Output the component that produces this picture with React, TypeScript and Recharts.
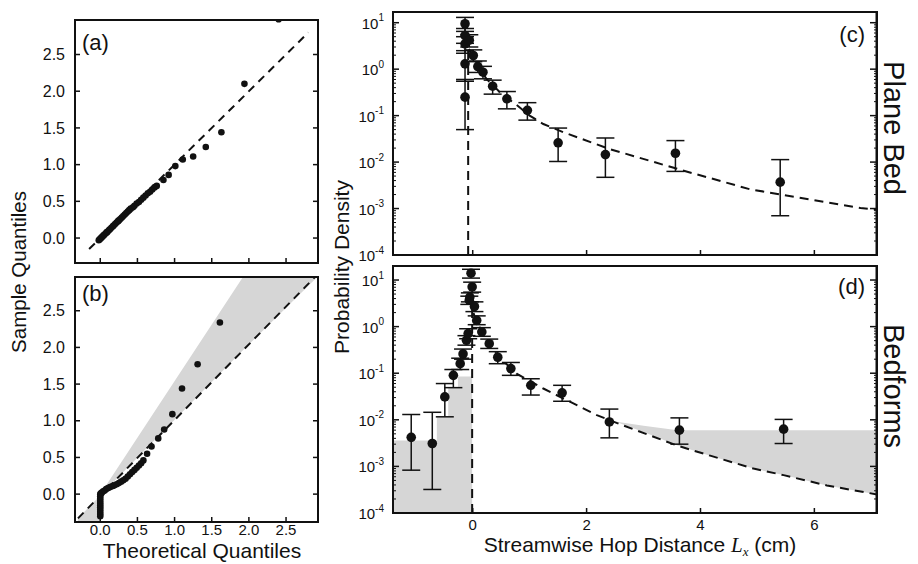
import React from 'react';
import { ComposedChart, Scatter, Line, Area, XAxis, YAxis, ErrorBar, ReferenceArea } from 'recharts';

const FONT = '"Liberation Sans", Arial, Helvetica, sans-serif';
const INK = '#111';
const SHADE = '#d6d6d6';

// ---- (a) / (b): Q-Q plots ----
const quantileTicks = [0, 0.5, 1, 1.5, 2, 2.5];

const qqPlaneBed: [number, number][] = [
  [-0.02, -0.03], [-0.01, -0.02], [0, -0.01], [0.01, 0], [0.02, 0.01], [0.03, 0.02],
  [0.04, 0.03], [0.05, 0.04], [0.06, 0.05], [0.08, 0.07], [0.09, 0.08], [0.1, 0.09],
  [0.12, 0.11], [0.13, 0.12], [0.15, 0.14], [0.17, 0.16], [0.18, 0.17], [0.2, 0.19],
  [0.22, 0.21], [0.24, 0.23], [0.25, 0.24], [0.27, 0.26], [0.29, 0.28], [0.31, 0.3],
  [0.33, 0.32], [0.35, 0.34], [0.37, 0.36], [0.39, 0.38], [0.41, 0.4], [0.44, 0.42],
  [0.46, 0.44], [0.49, 0.47], [0.52, 0.49], [0.55, 0.52], [0.58, 0.55], [0.61, 0.58],
  [0.64, 0.61], [0.67, 0.63], [0.7, 0.66], [0.73, 0.69], [0.76, 0.71], [0.85, 0.79],
  [0.92, 0.86], [1.01, 0.98], [1.11, 1.07], [1.25, 1.11], [1.42, 1.24], [1.63, 1.44],
  [1.94, 2.1], [2.4, 2.98],
];
const qqPlaneRef: [number, number][] = [[-0.15, -0.15], [2.8, 2.8]];

const qqBedforms: [number, number][] = [
  [0, -0.3], [0, -0.27], [0, -0.24], [0, -0.21], [0, -0.18], [0, -0.15], [0, -0.12],
  [0, -0.09], [0, -0.06], [0, -0.03], [0, 0], [0.01, 0.01], [0.02, 0.02], [0.04, 0.04],
  [0.06, 0.05], [0.08, 0.07], [0.1, 0.08], [0.12, 0.09], [0.14, 0.1], [0.17, 0.11],
  [0.19, 0.12], [0.22, 0.135], [0.25, 0.15], [0.28, 0.17], [0.31, 0.19], [0.34, 0.21],
  [0.37, 0.24], [0.4, 0.27], [0.43, 0.3], [0.46, 0.33], [0.49, 0.36], [0.52, 0.39],
  [0.55, 0.42], [0.58, 0.46], [0.63, 0.55], [0.69, 0.65], [0.78, 0.76], [0.86, 0.88],
  [0.97, 1.09], [1.1, 1.44], [1.31, 1.77], [1.61, 2.34],
];
const qqBedformsRef: [number, number][] = [[-0.3, -0.33], [2.9, 2.97]];
// grey wedge between the reference line and the steeper envelope
const wedgeX = [-0.3, 0, 0, 1.92, 2.93];
const wedgeLo = [-0.38, -0.38, -0.02, 1.96, 2.97];
const wedgeHi = [-0.33, -0.02, 0, 2.96, 2.96];

// ---- (c) / (d): hop distance pdfs ----
const decadeTicks = [1e-4, 1e-3, 1e-2, 1e-1, 1, 10];
const minorTicks = [1e-4, 1e-3, 1e-2, 1e-1, 1].flatMap((d) => [2, 3, 4, 5, 6, 7, 8, 9].map((m) => m * d));
const hopTicks = [0, 2, 4, 6];

const planeX = [-0.135, -0.135, -0.135, -0.135, -0.135, -0.06, 0.01, 0.09, 0.18, 0.35, 0.6, 0.96, 1.5, 2.33, 3.56, 5.4];
const planeY = [9.5, 5.3, 3.5, 1.3, 0.25, 4.2, 1.97, 1.14, 0.86, 0.43, 0.23, 0.13, 0.026, 0.0145, 0.0155, 0.0037];
const planeLo = [6.5, 3.6, 2.2, 0.55, 0.05, 3, 1.45, 0.85, 0.62, 0.29, 0.14, 0.08, 0.0103, 0.0047, 0.0063, 0.0007];
const planeHi = [13, 7.5, 5, 2.5, 0.6, 5.5, 2.6, 1.5, 1.15, 0.58, 0.33, 0.19, 0.054, 0.033, 0.029, 0.0113];
const planeFitX = [-0.08, -0.08, 0, 0.1, 0.25, 0.5, 0.77, 1.0, 1.24, 1.59, 2.41, 3.69, 4.87, 6.81, 7.1];
const planeFitY = [1e-4, 3, 1.8, 1.1, 0.6, 0.3, 0.17, 0.1, 0.066, 0.044, 0.019, 0.0066, 0.0026, 0.00103, 0.00095];

const bedX = [-1.08, -0.71, -0.49, -0.34, -0.22, -0.17, -0.11, -0.08, -0.06, -0.05, -0.03, -0.01, 0.03, 0.07, 0.16, 0.29, 0.44, 0.67, 1.02, 1.57, 2.4, 3.63, 5.46];
const bedY = [0.0042, 0.0031, 0.031, 0.09, 0.16, 0.26, 0.51, 0.71, 3.7, 4.3, 14, 7.1, 2.7, 1.36, 0.77, 0.43, 0.22, 0.126, 0.055, 0.038, 0.009, 0.006, 0.0063];
const bedLo = [0.00083, 0.00032, 0.0116, 0.049, 0.12, 0.2, 0.4, 0.55, 3, 3.4, 11, 5.5, 2.1, 1.1, 0.62, 0.34, 0.16, 0.09, 0.034, 0.025, 0.0041, 0.003, 0.0031];
const bedHi = [0.013, 0.0145, 0.06, 0.12, 0.21, 0.33, 0.64, 0.9, 4.5, 5.3, 17, 9, 3.4, 1.7, 0.95, 0.54, 0.29, 0.17, 0.076, 0.055, 0.017, 0.011, 0.0102];
const bedFitX = [-0.01, -0.01, 0.05, 0.16, 0.3, 0.45, 0.77, 1.24, 2.18, 2.64, 3.59, 4.17, 4.93, 5.46, 6.22, 7.1];
const bedFitY = [1e-4, 2.5, 1.4, 0.8, 0.42, 0.23, 0.098, 0.047, 0.0126, 0.0076, 0.0028, 0.0017, 0.0009, 0.00065, 0.00039, 0.00025];
// shaded regions in (d): upstream hops and excess tail
const upstreamX = [-1.4, -0.63, -0.43, -0.26, -0.01];
const upstreamY = [0.0036, 0.012, 0.05, 0.085, 0.085];
const tailX = [2.5, 3.0, 3.6, 4.17, 4.93, 5.46, 6.22, 7.1];
const tailLo = [0.0092, 0.0055, 0.0028, 0.0017, 0.0009, 0.00065, 0.00039, 0.00025];
const tailHi = [0.0092, 0.0075, 0.006, 0.006, 0.006, 0.006, 0.006, 0.006];

const pairsToRows = (pairs: [number, number][]) => pairs.map(([x, y]) => ({ x, y }));
const toRows = (xs: number[], ys: number[]) => xs.map((x, i) => ({ x, y: ys[i] }));
const toErrRows = (xs: number[], ys: number[], lo: number[], hi: number[]) =>
  xs.map((x, i) => ({ x, y: ys[i], err: [ys[i] - lo[i], hi[i] - ys[i]] }));
const toRangeRows = (xs: number[], lo: number[], hi: number[]) => xs.map((x, i) => ({ x, range: [lo[i], hi[i]] }));

const axisLine = { stroke: INK, strokeWidth: 2 };
const tickLine = { stroke: INK, strokeWidth: 1.5 };
const minorLine = { stroke: INK, strokeWidth: 1 };
const blank = () => '';

const LogTick = (props: any) => {
  const { x, y, payload } = props;
  const exp = Math.round(Math.log10(payload.value));
  return (
    <text x={x} y={y} textAnchor="end" fill={INK} fontFamily={FONT} fontSize={15}>
      <tspan dy="0.4em">10</tspan>
      <tspan dy="-0.75em" fontSize={10}>{exp}</tspan>
    </text>
  );
};

const dot = (r: number) => (p: any) => <circle cx={p.cx} cy={p.cy} r={r} fill={INK} />;

type QQProps = {
  top: number;
  height: number;
  marginTop: number;
  marginBottom: number;
  xAxisHeight: number;
  yDomain: [number, number];
  points: [number, number][];
  refLine: [number, number][];
  showXLabels: boolean;
  wedge?: { x: number[]; lo: number[]; hi: number[] };
};

function QQPanel({ top, height, marginTop, marginBottom, xAxisHeight, yDomain, points, refLine, showXLabels, wedge }: QQProps) {
  const xDomain: [number, number] = [-0.34, 2.93];
  return (
    <div style={{ position: 'absolute', left: 0, top }}>
      <ComposedChart width={330} height={height} margin={{ top: marginTop, right: 12, bottom: marginBottom, left: 0 }}>
        <XAxis dataKey="x" type="number" domain={xDomain} allowDataOverflow ticks={quantileTicks} interval={0}
          height={xAxisHeight} stroke={INK} axisLine={axisLine} tickLine={tickLine} tickSize={-5} tickMargin={7}
          tickFormatter={showXLabels ? (v: number) => v.toFixed(1) : blank}
          tick={{ fontSize: 15, fill: INK, fontFamily: FONT }} />
        <YAxis type="number" domain={yDomain} allowDataOverflow ticks={quantileTicks} interval={0} width={75}
          stroke={INK} axisLine={axisLine} tickLine={tickLine} tickSize={-5} tickMargin={15}
          tickFormatter={(v: number) => v.toFixed(1)} tick={{ fontSize: 16, fill: INK, fontFamily: FONT }} />
        <YAxis yAxisId="r" orientation="right" type="number" domain={yDomain} allowDataOverflow ticks={quantileTicks}
          interval={0} mirror width={1} stroke={INK} tickLine={tickLine} tickSize={5} tickFormatter={blank} />
        {wedge && (
          <Area data={toRangeRows(wedge.x, wedge.lo, wedge.hi)} dataKey="range" type="linear" stroke="none"
            fill={SHADE} fillOpacity={1} isAnimationActive={false} />
        )}
        <Line data={pairsToRows(refLine)} dataKey="y" type="linear" stroke={INK} strokeWidth={2}
          strokeDasharray="8 6" dot={false} isAnimationActive={false} />
        <Scatter data={pairsToRows(points)} dataKey="y" shape={dot(3.3)} isAnimationActive={false} />
        <ReferenceArea x1={xDomain[0]} x2={xDomain[1]} y1={yDomain[0]} y2={yDomain[1]} fill="none"
          stroke={INK} strokeWidth={2} />
      </ComposedChart>
    </div>
  );
}

type HopProps = {
  top: number;
  height: number;
  marginTop: number;
  marginBottom: number;
  xAxisHeight: number;
  yMax: number;
  xs: number[];
  ys: number[];
  lo: number[];
  hi: number[];
  fitX: number[];
  fitY: number[];
  showXLabels: boolean;
  shaded?: boolean;
};

function HopPanel({ top, height, marginTop, marginBottom, xAxisHeight, yMax, xs, ys, lo, hi, fitX, fitY, showXLabels, shaded }: HopProps) {
  const xDomain: [number, number] = [-1.4, 7.1];
  const yDomain: [number, number] = [1e-4, yMax];
  return (
    <div style={{ position: 'absolute', left: 330, top }}>
      <ComposedChart width={588} height={height} margin={{ top: marginTop, right: 41, bottom: marginBottom, left: 0 }}>
        <XAxis dataKey="x" type="number" domain={xDomain} allowDataOverflow ticks={hopTicks} interval={0}
          height={xAxisHeight} stroke={INK} axisLine={axisLine} tickLine={tickLine} tickSize={-5} tickMargin={11}
          tickFormatter={showXLabels ? (v: number) => String(v) : blank}
          tick={{ fontSize: 15, fill: INK, fontFamily: FONT }} />
        <YAxis yAxisId="mL" type="number" scale="log" domain={yDomain} allowDataOverflow ticks={minorTicks} interval={0}
          mirror width={1} stroke={INK} tickLine={minorLine} tickSize={3} tickFormatter={blank} />
        <YAxis type="number" scale="log" domain={yDomain} allowDataOverflow ticks={decadeTicks} interval={0} width={63}
          stroke={INK} axisLine={axisLine} tickLine={tickLine} tickSize={-6} tickMargin={15} tick={<LogTick />} />
        <YAxis yAxisId="r" orientation="right" type="number" scale="log" domain={yDomain} allowDataOverflow
          ticks={decadeTicks} interval={0} mirror width={1} stroke={INK} tickLine={tickLine}
          tickSize={6} tickFormatter={blank} />
        <YAxis yAxisId="mR" orientation="right" type="number" scale="log" domain={yDomain} allowDataOverflow
          ticks={minorTicks} interval={0} mirror width={1} stroke={INK} tickLine={minorLine}
          tickSize={3} tickFormatter={blank} />
        {shaded && (
          <Area data={toRows(upstreamX, upstreamY).map((r) => ({ x: r.x, range: [1e-4, r.y] }))} dataKey="range"
            type="stepAfter" stroke="none" fill={SHADE} fillOpacity={1} isAnimationActive={false} />
        )}
        {shaded && (
          <Area data={toRangeRows(tailX, tailLo, tailHi)} dataKey="range" type="linear" stroke="none"
            fill={SHADE} fillOpacity={1} isAnimationActive={false} />
        )}
        <Line data={toRows(fitX, fitY)} dataKey="y" type="linear" stroke={INK} strokeWidth={2}
          strokeDasharray="9 6" dot={false} isAnimationActive={false} />
        <Scatter data={toErrRows(xs, ys, lo, hi)} dataKey="y" shape={dot(4.8)} isAnimationActive={false}>
          <ErrorBar dataKey="err" direction="y" width={9} strokeWidth={1.5} stroke={INK} />
        </Scatter>
        <ReferenceArea x1={xDomain[0]} x2={xDomain[1]} y1={yDomain[0]} y2={yDomain[1]} fill="none"
          stroke={INK} strokeWidth={2} />
      </ComposedChart>
    </div>
  );
}

export default function App() {
  return (
    <div style={{ position: 'absolute', left: 0, top: 0, width: 918, height: 564, background: '#fff', overflow: 'hidden' }}>
      <QQPanel top={0} height={270} marginTop={20} marginBottom={2} xAxisHeight={5} yDomain={[-0.34, 2.97]}
        points={qqPlaneBed} refLine={qqPlaneRef} showXLabels={false} />
      <QQPanel top={264} height={300} marginTop={13} marginBottom={0} xAxisHeight={42} yDomain={[-0.38, 2.96]}
        points={qqBedforms} refLine={qqBedformsRef} showXLabels
        wedge={{ x: wedgeX, lo: wedgeLo, hi: wedgeHi }} />
      <HopPanel top={0} height={272} marginTop={12} marginBottom={12} xAxisHeight={5} yMax={17}
        xs={planeX} ys={planeY} lo={planeLo} hi={planeHi} fitX={planeFitX} fitY={planeFitY} showXLabels={false} />
      <HopPanel top={262} height={302} marginTop={4} marginBottom={0} xAxisHeight={51} yMax={20}
        xs={bedX} ys={bedY} lo={bedLo} hi={bedHi} fitX={bedFitX} fitY={bedFitY} showXLabels shaded />
      <svg width={918} height={564} style={{ position: 'absolute', left: 0, top: 0, pointerEvents: 'none' }}
        fontFamily={FONT} fill={INK}>
        <text transform="translate(19,272) rotate(-90)" y={7} textAnchor="middle" fontSize={20.5}>Sample Quantiles</text>
        <text x={202} y={558} textAnchor="middle" fontSize={21}>Theoretical Quantiles</text>
        <text transform="translate(342,267) rotate(-90)" y={7} textAnchor="middle" fontSize={21}>Probability Density</text>
        <text x={640} y={552} textAnchor="middle" fontSize={21}>
          Streamwise Hop Distance{' '}
          <tspan fontStyle="italic" fontFamily='"Liberation Serif", serif'>L</tspan>
          <tspan fontStyle="italic" fontFamily='"Liberation Serif", serif' fontSize={13} dy={4}>x</tspan>
          <tspan dy={-4}> (cm)</tspan>
        </text>
        <text transform="translate(894,128) rotate(90)" y={10} textAnchor="middle" fontSize={29}>Plane Bed</text>
        <text transform="translate(894,386) rotate(90)" y={10} textAnchor="middle" fontSize={29}>Bedforms</text>
        <text x={82} y={50} fontSize={22}>(a)</text>
        <text x={82} y={301} fontSize={22}>(b)</text>
        <text x={865} y={42} textAnchor="end" fontSize={22}>(c)</text>
        <text x={865} y={294} textAnchor="end" fontSize={22}>(d)</text>
      </svg>
    </div>
  );
}
